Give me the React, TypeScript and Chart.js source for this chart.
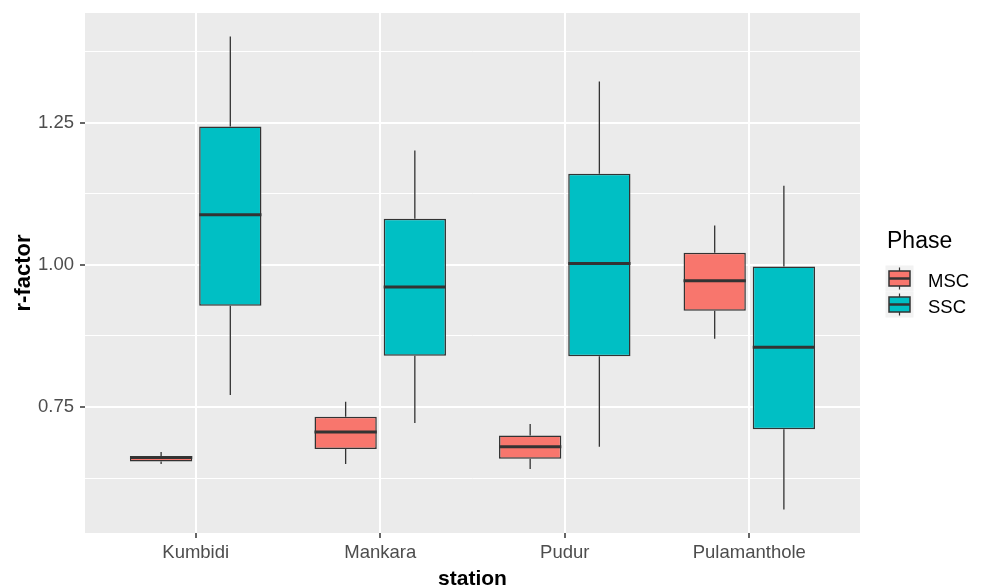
import React, { useEffect, useRef } from 'react';
import { Chart, registerables } from 'chart.js';

Chart.register(...registerables);

// ---- data ----
const stations = ['Kumbidi', 'Mankara', 'Pudur', 'Pulamanthole'];
const phases = ['MSC', 'SSC'];
const phaseColors = ['#F8766D', '#00BFC4'];

// MSC five-number summaries (lower whisker, Q1, median, Q3, upper whisker)
const mscLower = [0.650, 0.650, 0.641, 0.870];
const mscQ1 = [0.654, 0.676, 0.659, 0.919];
const mscMedian = [0.661, 0.706, 0.680, 0.972];
const mscQ3 = [0.664, 0.733, 0.700, 1.021];
const mscUpper = [0.671, 0.759, 0.720, 1.069];

// SSC five-number summaries
const sscLower = [0.771, 0.722, 0.680, 0.570];
const sscQ1 = [0.928, 0.840, 0.839, 0.711];
const sscMedian = [1.088, 0.961, 1.002, 0.855];
const sscQ3 = [1.243, 1.081, 1.160, 0.997];
const sscUpper = [1.401, 1.201, 1.322, 1.139];

const yGridValues = [0.625, 0.75, 0.875, 1.0, 1.125, 1.25, 1.375];
const yLabelValues = [0.75, 1.0, 1.25];
const yMin = 0.5285;
const yMax = 1.4425;

const stats = [
  { lower: mscLower, q1: mscQ1, median: mscMedian, q3: mscQ3, upper: mscUpper },
  { lower: sscLower, q1: sscQ1, median: sscMedian, q3: sscQ3, upper: sscUpper },
];

const FONT = '"Liberation Sans", Arial, sans-serif';
const INK = '#333333';

const panelBg = {
  id: 'panelBg',
  beforeDraw(chart: any) {
    const { ctx, chartArea } = chart;
    ctx.save();
    ctx.fillStyle = '#FFFFFF';
    ctx.fillRect(0, 0, chart.width, chart.height);
    ctx.fillStyle = '#EBEBEB';
    ctx.fillRect(chartArea.left, chartArea.top, chartArea.right - chartArea.left, chartArea.bottom - chartArea.top);
    ctx.restore();
  },
};

const boxExtras = {
  id: 'boxExtras',
  afterDatasetsDraw(chart: any) {
    const { ctx } = chart;
    const y = chart.scales.y;
    chart.data.datasets.forEach((_ds: any, di: number) => {
      const meta = chart.getDatasetMeta(di);
      const st = stats[di];
      meta.data.forEach((bar: any, i: number) => {
        const { x, width } = bar.getProps(['x', 'width'], true);
        ctx.save();
        ctx.strokeStyle = INK;
        ctx.lineWidth = 1.3;
        ctx.beginPath();
        ctx.moveTo(x, y.getPixelForValue(st.upper[i]));
        ctx.lineTo(x, y.getPixelForValue(st.q3[i]));
        ctx.moveTo(x, y.getPixelForValue(st.q1[i]));
        ctx.lineTo(x, y.getPixelForValue(st.lower[i]));
        ctx.stroke();
        ctx.lineWidth = 3;
        ctx.beginPath();
        const my = y.getPixelForValue(st.median[i]);
        ctx.moveTo(x - width / 2, my);
        ctx.lineTo(x + width / 2, my);
        ctx.stroke();
        ctx.restore();
      });
    });
  },
};

const legendPlugin = {
  id: 'ggLegend',
  afterDraw(chart: any) {
    const { ctx } = chart;
    ctx.save();
    ctx.fillStyle = '#000000';
    ctx.textBaseline = 'middle';
    ctx.textAlign = 'left';
    ctx.font = `23px ${FONT}`;
    ctx.fillText('Phase', 887, 241.5);
    const keyLeft = 885.5;
    const keyW = 28;
    const keyH = 26;
    const keyTop0 = 265.5;
    phases.forEach((p, i) => {
      const top = keyTop0 + i * keyH;
      ctx.fillStyle = '#F2F2F2';
      ctx.fillRect(keyLeft, top, keyW, keyH);
      const cx = keyLeft + keyW / 2;
      ctx.strokeStyle = INK;
      ctx.lineWidth = 1.2;
      ctx.beginPath();
      ctx.moveTo(cx, top + 2);
      ctx.lineTo(cx, top + keyH - 2);
      ctx.stroke();
      const bx = keyLeft + 3.5;
      const bw = keyW - 7;
      const by = top + 5.5;
      const bh = 15;
      ctx.fillStyle = phaseColors[i];
      ctx.fillRect(bx, by, bw, bh);
      ctx.lineWidth = 1.5;
      ctx.strokeRect(bx, by, bw, bh);
      ctx.lineWidth = 2.5;
      ctx.beginPath();
      ctx.moveTo(bx, by + bh / 2);
      ctx.lineTo(bx + bw, by + bh / 2);
      ctx.stroke();
      ctx.fillStyle = '#000000';
      ctx.font = `18.5px ${FONT}`;
      ctx.fillText(p, 928, top + 16);
    });
    ctx.restore();
  },
};

export default function App() {
  const canvasRef = useRef<HTMLCanvasElement | null>(null);

  useEffect(() => {
    if (!canvasRef.current) return;
    Chart.defaults.font.family = FONT;
    const chart = new Chart(canvasRef.current, {
      type: 'bar',
      data: {
        datasets: phases.map((p, di) => ({
          label: p,
          data: stations.map((_, i) => ({ x: i, y: [stats[di].q1[i], stats[di].q3[i]] })),
          backgroundColor: phaseColors[di],
          borderColor: INK,
          borderWidth: 1.5,
          borderSkipped: false,
          categoryPercentage: 0.75,
          barPercentage: 0.9,
        })) as any,
      },
      options: {
        animation: false,
        responsive: false,
        devicePixelRatio: 1,
        layout: { padding: { top: 13, right: 124, bottom: 0, left: 0 } },
        plugins: {
          legend: { display: false },
          tooltip: { enabled: false },
        },
        scales: {
          x: {
            type: 'linear',
            min: -0.6,
            max: 3.6,
            offset: false,
            afterBuildTicks: (scale: any) => {
              scale.ticks = stations.map((_, i) => ({ value: i }));
            },
            afterFit: (scale: any) => {
              scale.height = 55;
              scale.paddingLeft = 0;
              scale.paddingRight = 0;
            },
            grid: {
              offset: false,
              color: '#FFFFFF',
              lineWidth: 2,
              tickColor: INK,
              tickWidth: 1.5,
              tickLength: 5,
            },
            border: { display: false },
            ticks: {
              autoSkip: false,
              maxRotation: 0,
              padding: 4,
              color: '#4D4D4D',
              font: { size: 18.5, family: FONT },
              callback: (v: any) => stations[v as number] ?? '',
            },
            title: {
              display: true,
              text: 'station',
              color: '#000000',
              font: { size: 21, weight: 'bold', family: FONT, lineHeight: 0.8 },
              padding: { top: 0, bottom: 0 },
            },
          },
          y: {
            type: 'linear',
            min: yMin,
            max: yMax,
            afterBuildTicks: (scale: any) => {
              scale.ticks = yGridValues.map((v) => ({ value: v }));
            },
            afterFit: (scale: any) => {
              scale.width = 85;
              scale.paddingTop = 0;
              scale.paddingBottom = 0;
            },
            grid: {
              color: '#FFFFFF',
              lineWidth: (c: any) => (yLabelValues.includes(c.tick?.value) ? 2 : 1),
              tickColor: (c: any) => (yLabelValues.includes(c.tick?.value) ? INK : 'rgba(0,0,0,0)'),
              tickWidth: 1.5,
              tickLength: 5,
            },
            border: { display: false },
            ticks: {
              padding: 6,
              color: '#4D4D4D',
              font: { size: 18.5, family: FONT },
              callback: (v: any) => (yLabelValues.includes(v) ? Number(v).toFixed(2) : ''),
            },
            title: {
              display: true,
              text: 'r-factor',
              color: '#000000',
              font: { size: 22, weight: 'bold', family: FONT, lineHeight: 1.2 },
              padding: { top: 11, bottom: 0 },
            },
          },
        },
      } as any,
      plugins: [panelBg, boxExtras, legendPlugin],
    });
    return () => chart.destroy();
  }, []);

  return (
    <div style={{ position: 'absolute', left: 0, top: 0, width: 984, height: 588 }}>
      <canvas ref={canvasRef} width={984} height={588} />
    </div>
  );
}
